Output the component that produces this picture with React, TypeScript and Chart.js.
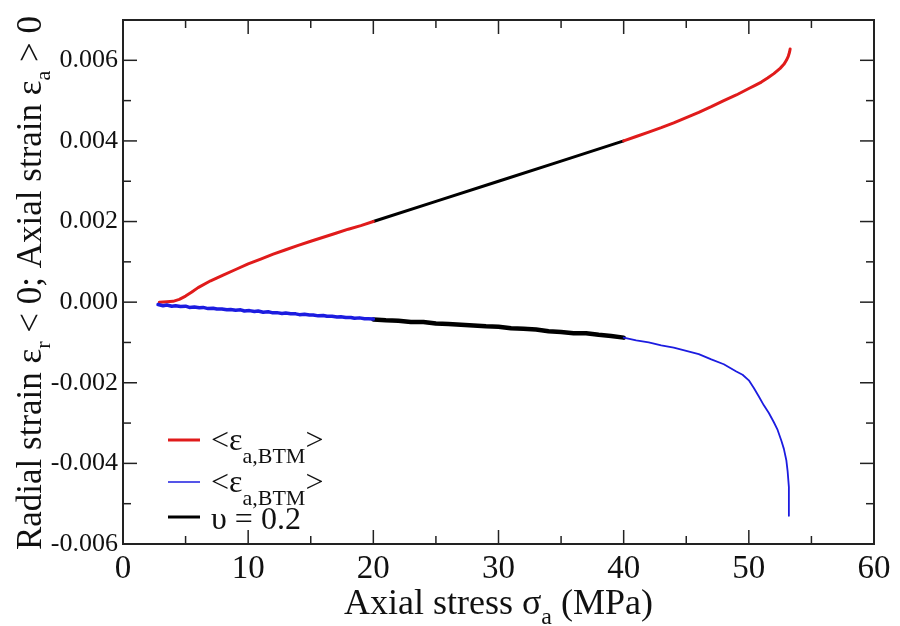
import React, { useEffect, useRef } from 'react';
import { Chart, registerables } from 'chart.js';

Chart.register(...registerables);

// ---------- data ----------
const axialX1 = [2.9, 3.5, 4.0, 4.5, 5.0, 5.5, 6.0, 7.0, 8.0, 9.0, 10.0, 11.0, 12.0, 13.0, 14.0, 15.0, 16.0, 17.0, 18.0, 19.0, 20.0];
const axialY1 = [0.0, 0.00001, 0.00002, 0.00007, 0.00015, 0.00025, 0.00036, 0.00053, 0.00067, 0.00081, 0.00095, 0.00107, 0.00119, 0.0013, 0.00141, 0.00151, 0.00161, 0.00171, 0.00181, 0.0019, 0.002];

const axialX2 = [40, 41, 42, 43, 44, 45, 46, 47, 48, 49, 50, 50.5, 51, 51.5, 52, 52.5, 52.8, 53.0, 53.15, 53.25, 53.3];
const axialY2 = [0.004, 0.00411, 0.00422, 0.00433, 0.00445, 0.00458, 0.00471, 0.00485, 0.005, 0.00514, 0.0053, 0.00538, 0.00546, 0.00556, 0.00567, 0.0058, 0.0059, 0.006, 0.0061, 0.0062, 0.00628];

const fitUpperX = [20, 25, 30, 35, 40];
const fitUpperY = [0.002, 0.0025, 0.003, 0.0035, 0.004];

const radialX1 = [2.8, 3.2, 3.5, 3.9, 4.2, 4.6, 5.0, 5.3, 5.7, 6.1, 6.4, 6.8, 7.2, 7.5, 7.9, 8.3, 8.6, 9.0, 9.4, 9.7, 10.1, 10.5, 10.8, 11.2, 11.6, 11.9, 12.3, 12.7, 13.0, 13.4, 13.8, 14.1, 14.5, 14.9, 15.2, 15.6, 16.0, 16.3, 16.7, 17.1, 17.4, 17.8, 18.2, 18.5, 18.9, 19.3, 19.6, 20.0];
const radialY1 = [-0.00006, -0.00009, -0.00007, -0.0001, -0.00009, -0.00011, -0.0001, -0.00013, -0.00012, -0.00014, -0.00013, -0.00016, -0.00015, -0.00017, -0.00017, -0.00019, -0.00018, -0.0002, -0.00019, -0.00022, -0.00021, -0.00023, -0.00022, -0.00025, -0.00024, -0.00026, -0.00026, -0.00028, -0.00027, -0.00029, -0.00029, -0.00031, -0.0003, -0.00032, -0.00032, -0.00034, -0.00033, -0.00035, -0.00035, -0.00037, -0.00036, -0.00038, -0.00038, -0.0004, -0.00039, -0.00041, -0.00041, -0.00042];

const fitLowerX = [20, 21, 22, 23, 24, 25, 26, 27, 28, 29, 30, 31, 32, 33, 34, 35, 36, 37, 38, 39, 40];
const fitLowerY = [-0.00043, -0.00045, -0.00046, -0.00049, -0.00049, -0.00053, -0.00054, -0.00056, -0.00058, -0.0006, -0.00061, -0.00065, -0.00066, -0.00068, -0.00072, -0.00074, -0.00077, -0.00077, -0.00081, -0.00084, -0.00088];

const radialX2 = [40, 41, 42, 43, 44, 45, 46, 47, 48, 49, 49.5, 50, 50.4, 50.8, 51.2, 51.6, 52.0, 52.3, 52.6, 52.8, 53.0, 53.1, 53.2, 53.2, 53.2];
const radialY2 = [-0.00088, -0.00095, -0.001, -0.00107, -0.00113, -0.00121, -0.00129, -0.00142, -0.00154, -0.00172, -0.0018, -0.00194, -0.00213, -0.00234, -0.00256, -0.00275, -0.00298, -0.00317, -0.00344, -0.00364, -0.00393, -0.0042, -0.00459, -0.005, -0.0053];

const xMajorTicks = [0, 10, 20, 30, 40, 50, 60];
const xMinorTicks = [5, 15, 25, 35, 45, 55];
const xTickLabels = ['0', '10', '20', '30', '40', '50', '60'];
const yMajorTicks = [-0.006, -0.004, -0.002, 0, 0.002, 0.004, 0.006];
const yMinorTicks = [-0.005, -0.003, -0.001, 0.001, 0.003, 0.005];
const yTickLabels = ['-0.006', '-0.004', '-0.002', '0.000', '0.002', '0.004', '0.006'];

const RED = '#e01b1b';
const BLUE = '#1c1ce0';
const BLACK = '#000000';

const SERIF = '"Liberation Serif", "Times New Roman", serif';

type Run = { t: string; s: number; dy?: number };

function runsWidth(ctx: CanvasRenderingContext2D, runs: Run[]) {
  let w = 0;
  for (const r of runs) {
    ctx.font = `${r.s}px ${SERIF}`;
    w += ctx.measureText(r.t).width;
  }
  return w;
}

function drawRuns(ctx: CanvasRenderingContext2D, runs: Run[], x: number, y: number) {
  let cx = x;
  ctx.textAlign = 'left';
  ctx.textBaseline = 'alphabetic';
  for (const r of runs) {
    ctx.font = `${r.s}px ${SERIF}`;
    ctx.fillText(r.t, cx, y + (r.dy || 0));
    cx += ctx.measureText(r.t).width;
  }
}

const pts = (xs: number[], ys: number[]) => xs.map((x, i) => ({ x, y: ys[i] }));

const framePlugin = {
  id: 'xmgraceFrame',
  afterDraw(chart: any) {
    const ctx: CanvasRenderingContext2D = chart.ctx;
    const xs = chart.scales.x;
    const ys = chart.scales.y;
    const { left, right, top, bottom } = chart.chartArea;
    ctx.save();
    ctx.strokeStyle = '#222';
    ctx.fillStyle = '#111';
    const line = (x1: number, y1: number, x2: number, y2: number) => {
      ctx.beginPath();
      ctx.moveTo(x1, y1);
      ctx.lineTo(x2, y2);
      ctx.stroke();
    };
    ctx.lineWidth = 1.5;
    const tickX = (v: number, len: number) => {
      const p = xs.getPixelForValue(v);
      line(p, bottom, p, bottom - len);
      line(p, top, p, top + len);
    };
    const tickY = (v: number, len: number) => {
      const p = ys.getPixelForValue(v);
      line(left, p, left + len, p);
      line(right, p, right - len, p);
    };
    xMajorTicks.forEach((v) => tickX(v, 14));
    xMinorTicks.forEach((v) => tickX(v, 8));
    yMajorTicks.forEach((v) => tickY(v, 14));
    yMinorTicks.forEach((v) => tickY(v, 8));
    ctx.lineWidth = 2;
    ctx.strokeRect(left, top, right - left, bottom - top);

    // tick labels
    ctx.font = `33px ${SERIF}`;
    ctx.textAlign = 'center';
    ctx.textBaseline = 'alphabetic';
    xMajorTicks.forEach((v, i) => {
      ctx.fillText(xTickLabels[i], xs.getPixelForValue(v), bottom + 34);
    });
    ctx.font = `26px ${SERIF}`;
    ctx.textAlign = 'right';
    ctx.textBaseline = 'middle';
    yMajorTicks.forEach((v, i) => {
      ctx.fillText(yTickLabels[i], left - 5, ys.getPixelForValue(v));
    });

    // x title
    const xRuns: Run[] = [
      { t: 'Axial stress \u03c3', s: 36 },
      { t: 'a', s: 24, dy: 10 },
      { t: ' (MPa)', s: 36 },
    ];
    const xw = runsWidth(ctx, xRuns);
    drawRuns(ctx, xRuns, (left + right) / 2 - xw / 2, bottom + 70);

    // y title (rotated)
    const yRuns: Run[] = [
      { t: 'Radial strain \u03b5', s: 35 },
      { t: 'r', s: 22, dy: 9 },
      { t: ' < 0; Axial strain \u03b5', s: 35 },
      { t: 'a', s: 22, dy: 9 },
      { t: ' > 0', s: 35 },
    ];
    const yw = runsWidth(ctx, yRuns);
    ctx.save();
    ctx.translate(41, 283);
    ctx.rotate(-Math.PI / 2);
    drawRuns(ctx, yRuns, -yw / 2, 0);
    ctx.restore();

    // legend
    const legendItems = [
      { color: RED, width: 3, runs: [{ t: '<\u03b5', s: 32 }, { t: 'a,BTM', s: 22, dy: 13 }, { t: '>', s: 32 }] as Run[], base: 10 },
      { color: BLUE, width: 1.5, runs: [{ t: '<\u03b5', s: 32 }, { t: 'a,BTM', s: 22, dy: 13 }, { t: '>', s: 32 }] as Run[], base: 10 },
      { color: BLACK, width: 3, runs: [{ t: '\u03c5 = 0.2', s: 32 }] as Run[], base: 12 },
    ];
    const rowY = [440, 482, 517];
    legendItems.forEach((it, i) => {
      ctx.strokeStyle = it.color;
      ctx.lineWidth = it.width;
      line(left + 45, rowY[i], left + 77, rowY[i]);
      ctx.fillStyle = '#111';
      drawRuns(ctx, it.runs, left + 88, rowY[i] + it.base);
    });
    ctx.restore();
  },
};

export default function App() {
  const ref = useRef<HTMLCanvasElement | null>(null);
  useEffect(() => {
    if (!ref.current) return;
    const common = { showLine: true, pointRadius: 0, fill: false, borderJoinStyle: 'round' as const, borderCapStyle: 'round' as const, tension: 0 };
    const chart = new Chart(ref.current, {
      type: 'scatter',
      data: {
        datasets: [
          { ...common, data: pts(radialX1, radialY1), borderColor: BLUE, borderWidth: 3.5 },
          { ...common, data: pts(radialX2, radialY2), borderColor: BLUE, borderWidth: 1.8 },
          { ...common, data: pts(axialX1, axialY1), borderColor: RED, borderWidth: 3 },
          { ...common, data: pts(axialX2, axialY2), borderColor: RED, borderWidth: 3 },
          { ...common, data: pts(fitUpperX, fitUpperY), borderColor: BLACK, borderWidth: 3 },
          { ...common, data: pts(fitLowerX, fitLowerY), borderColor: BLACK, borderWidth: 4.5 },
        ],
      },
      options: {
        animation: false,
        responsive: false,
        devicePixelRatio: 1,
        layout: { padding: { left: 123, right: 26, top: 20, bottom: 82 } },
        plugins: { legend: { display: false }, tooltip: { enabled: false } },
        scales: {
          x: { type: 'linear', min: 0, max: 60, display: false },
          y: { type: 'linear', min: -0.006, max: 0.007, display: false },
        },
      },
      plugins: [framePlugin],
    });
    return () => chart.destroy();
  }, []);
  return (
    <div style={{ position: 'absolute', left: 0, top: 0, width: 900, height: 626, background: '#fff' }}>
      <canvas ref={ref} width={900} height={626} style={{ display: 'block' }} />
    </div>
  );
}
